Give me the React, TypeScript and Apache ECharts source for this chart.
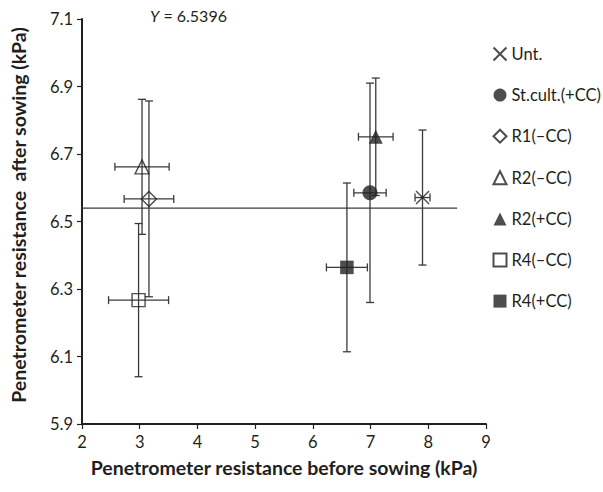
import React, { useEffect, useRef } from "react";
import * as echarts from "echarts";

const treatments = ["Unt.", "St.cult.(+CC)", "R1(–CC)", "R2(–CC)", "R2(+CC)", "R4(–CC)", "R4(+CC)"];
const xBefore = [7.9, 6.99, 3.16, 3.04, 7.09, 2.98, 6.59];
const yAfter = [6.571, 6.585, 6.567, 6.662, 6.751, 6.267, 6.364];
const xErr = [0.13, 0.28, 0.43, 0.47, 0.3, 0.52, 0.355];
const yErr = [0.2, 0.325, 0.29, 0.2, 0.174, 0.227, 0.25];
const meanY = 6.5396;
const meanLineX = [2, 8.5];
const yTicks = [5.9, 6.1, 6.3, 6.5, 6.7, 6.9, 7.1];
const xMin = 2;
const xMax = 9;

const INK = "#231f20";
const BAR = "#3a3a3a";
const FONT = "Lato";

const symbols: any[] = [
  { symbol: "path://M0,0L10,10M10,0L0,10", size: 13, filled: false },
  { symbol: "circle", size: 15, filled: true },
  { symbol: "diamond", size: 15, filled: false },
  { symbol: "triangle", size: 14, filled: false },
  { symbol: "triangle", size: 14, filled: true },
  { symbol: "rect", size: 13, filled: false },
  { symbol: "rect", size: 13.5, filled: true },
];

export default function App() {
  const ref = useRef<HTMLDivElement>(null);
  useEffect(() => {
    if (!ref.current) return;
    const chart = echarts.init(ref.current, undefined, { renderer: "svg" });
    const errData = treatments.map((_, i) => [xBefore[i], yAfter[i], xErr[i], yErr[i]]);
    const scatterSeries = treatments.map((name, i) => ({
      name,
      type: "scatter",
      data: [[xBefore[i], yAfter[i]]],
      symbol: symbols[i].symbol,
      symbolSize: symbols[i].size,
      z: 5,
      itemStyle: symbols[i].filled
        ? { color: INK, borderColor: INK, borderWidth: 0 }
        : { color: "none", borderColor: INK, borderWidth: 1.4 },
      emphasis: { disabled: true },
    }));
    const option: any = {
      animation: false,
      grid: { left: 82, right: 117, top: 19, bottom: 68, containLabel: false },
      xAxis: {
        type: "value",
        min: xMin,
        max: xMax,
        interval: 1,
        name: "Penetrometer resistance before sowing (kPa)",
        nameLocation: "middle",
        nameGap: 33,
        nameTextStyle: { fontFamily: FONT, fontWeight: "bold", fontSize: 19.5, color: INK },
        axisLine: { onZero: false, lineStyle: { color: INK, width: 2 } },
        axisTick: { show: true, inside: false, length: 5, lineStyle: { color: INK, width: 1.2 } },
        axisLabel: { fontFamily: FONT, fontSize: 16.5, color: INK, margin: 9 },
        splitLine: { show: false },
      },
      yAxis: {
        type: "value",
        min: 5.9,
        max: 7.1,
        name: "Penetrometer resistance \u00a0after sowing (kPa)",
        nameLocation: "middle",
        nameGap: 54,
        nameTextStyle: {
          fontFamily: FONT,
          fontWeight: "bold",
          fontSize: 19.5,
          color: INK,
          padding: [0, 0, 0, 13],
        },
        axisLine: { onZero: false, lineStyle: { color: INK, width: 2 } },
        axisTick: { show: true, inside: false, length: 5, customValues: yTicks, lineStyle: { color: INK, width: 1.2 } },
        axisLabel: {
          fontFamily: FONT,
          fontSize: 16.5,
          color: INK,
          margin: 9,
          customValues: yTicks,
          formatter: (v: number) => v.toFixed(1),
        },
        splitLine: { show: false },
      },
      legend: {
        orient: "vertical",
        left: 491,
        top: 45,
        padding: 0,
        itemWidth: 13,
        itemHeight: 13,
        itemGap: 23.6,
        data: treatments,
        textStyle: { fontFamily: FONT, fontSize: 16.5, color: INK },
        selectedMode: false,
      },
      graphic: [
        {
          type: "text",
          left: 150,
          top: 7,
          style: {
            text: "{i|Y} = 6.5396",
            fontFamily: FONT,
            fontSize: 16,
            fill: INK,
            rich: { i: { fontStyle: "italic", fontFamily: FONT, fontSize: 16, fill: INK } },
          },
        },
      ],
      series: [
        {
          name: "mean",
          type: "line",
          data: meanLineX.map((x) => [x, meanY]),
          symbol: "none",
          clip: false,
          lineStyle: { color: BAR, width: 1.3 },
          z: 2,
          silent: true,
        },
        {
          name: "errors",
          type: "custom",
          data: errData,
          z: 3,
          silent: true,
          renderItem: (params: any, api: any) => {
            const x = api.value(0);
            const y = api.value(1);
            const xe = api.value(2);
            const ye = api.value(3);
            const l = api.coord([x - xe, y]);
            const r = api.coord([x + xe, y]);
            const t = api.coord([x, y + ye]);
            const b = api.coord([x, y - ye]);
            const cap = 4;
            const style = { stroke: BAR, lineWidth: 1.3 };
            return {
              type: "group",
              children: [
                { type: "line", shape: { x1: l[0], y1: l[1], x2: r[0], y2: r[1] }, style },
                { type: "line", shape: { x1: l[0], y1: l[1] - cap, x2: l[0], y2: l[1] + cap }, style },
                { type: "line", shape: { x1: r[0], y1: r[1] - cap, x2: r[0], y2: r[1] + cap }, style },
                { type: "line", shape: { x1: t[0], y1: t[1], x2: b[0], y2: b[1] }, style },
                { type: "line", shape: { x1: t[0] - cap, y1: t[1], x2: t[0] + cap, y2: t[1] }, style },
                { type: "line", shape: { x1: b[0] - cap, y1: b[1], x2: b[0] + cap, y2: b[1] }, style },
              ],
            };
          },
        },
        ...scatterSeries,
      ],
    };
    chart.setOption(option);
    return () => chart.dispose();
  }, []);
  return (
    <div
      ref={ref}
      style={{ position: "fixed", left: 0, top: 0, width: 603, height: 492, background: "#fff" }}
    />
  );
}
